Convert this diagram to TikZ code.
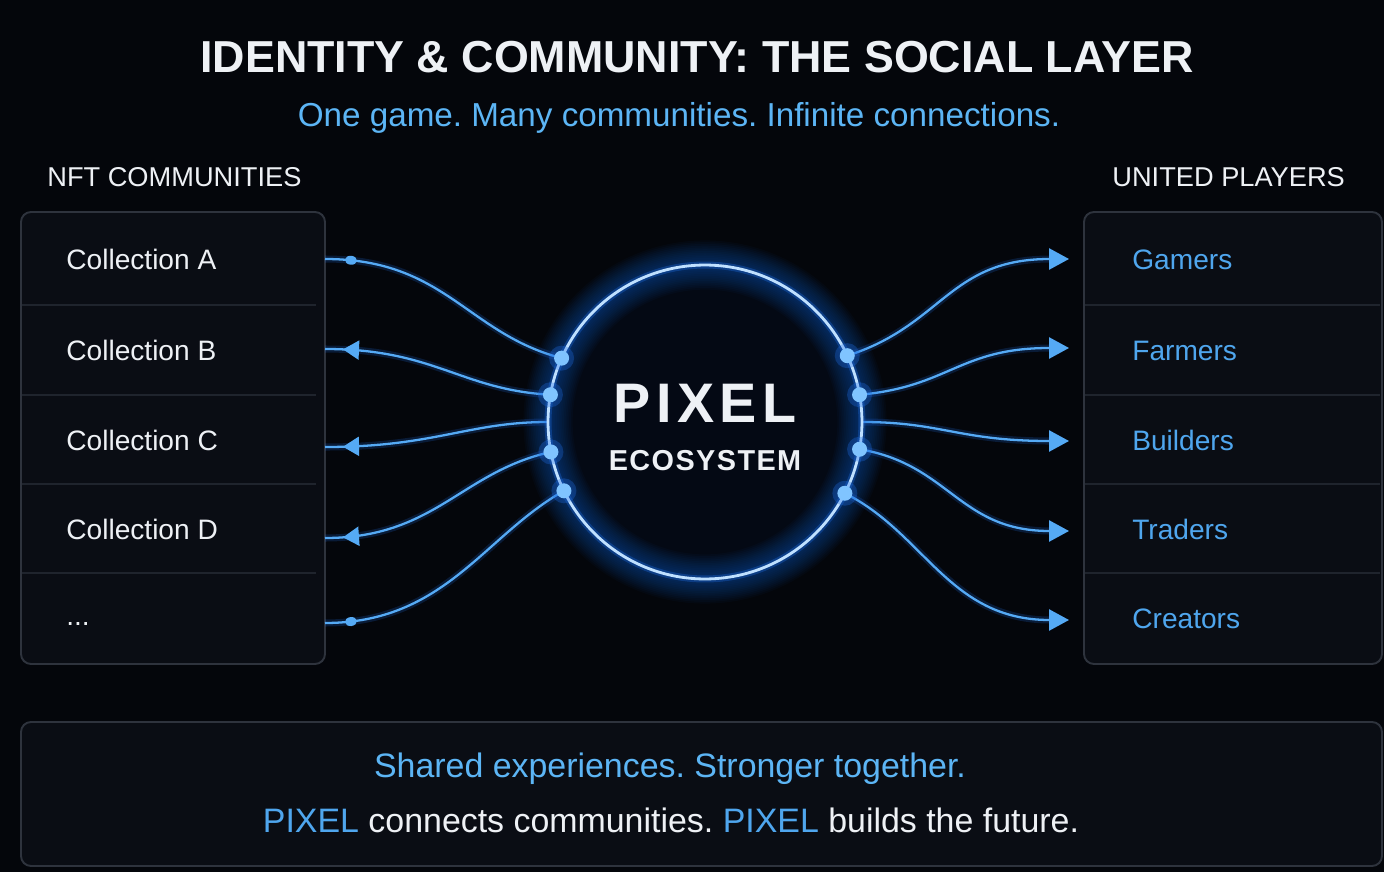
\documentclass[tikz,border=0pt]{standalone}
\usepackage{fontspec}
\setmainfont{Liberation Sans}
\newfontfamily\spacedfont[LetterSpace=10]{Liberation Sans}
\newfontfamily\spacedsub[LetterSpace=5]{Liberation Sans}
\usetikzlibrary{arrows.meta, decorations.markings}
\frenchspacing
\definecolor{bgdark}{HTML}{04060B}
\definecolor{panelfill}{HTML}{0A0D14}
\definecolor{paneledge}{HTML}{2E333D}
\definecolor{rowline}{HTML}{1F242D}
\definecolor{cwhite}{HTML}{EEF1F5}
\definecolor{cblue}{HTML}{4FA6EE}
\definecolor{clight}{HTML}{5CB5F5}
\definecolor{cwire}{HTML}{55AAF5}
\definecolor{cring}{HTML}{BFE0FF}
\definecolor{cglow}{HTML}{1F6FE8}
\definecolor{cdot}{HTML}{80C4FF}
\definecolor{corefill}{HTML}{040914}

\tikzset{
  headline/.style={font=\bfseries\fontsize{25.5}{30}\selectfont, text=cwhite, inner sep=0pt, anchor=base},
  tagline/.style={font=\fontsize{18.9}{22}\selectfont, text=clight, inner sep=0pt, anchor=base},
  colhead/.style={font=\fontsize{15.5}{18}\selectfont, text=cwhite, inner sep=0pt, anchor=base west},
  rowtext/.style={font=\fontsize{16}{19}\selectfont, text=cwhite, inner sep=0pt, anchor=base west},
  banner/.style={font=\fontsize{19.3}{23}\selectfont, inner sep=0pt, anchor=base},
  panel/.style={draw=paneledge, fill=panelfill, line width=1.1pt, rounded corners=0.2cm},
  rowsep/.style={draw=rowline, line width=0.9pt},
  wire/.style={draw=cwire, line width=1.3pt, preaction={draw=cglow, line width=4pt, opacity=0.2}},
  tipmark/.style={postaction={decorate, decoration={markings,
      mark=at position -0.36cm with {\arrow{Triangle[length=0.32cm, width=0.38cm]}}}}},
  dotmark/.style={postaction={decorate, decoration={markings,
      mark=at position -0.52cm with {\fill[cwire] (0,0) ellipse (0.12cm and 0.09cm);}}}},
  outarrow/.style={-{Triangle[length=0.4cm, width=0.42cm]}},
  hub/.style={circle, fill=corefill, minimum size=6.28cm, inner sep=0pt, outer sep=0pt},
  hubdot/.style={circle, fill=cdot, minimum size=0.3cm, inner sep=0pt},
  hubtitle/.style={font=\spacedfont\bfseries\fontsize{31.7}{36}\selectfont, text=cwhite, inner sep=0pt, anchor=base},
  hubsub/.style={font=\spacedsub\bfseries\fontsize{16.4}{20}\selectfont, text=cwhite, inner sep=0pt, anchor=base}
}

\begin{document}
\begin{tikzpicture}[x=0.02cm, y=-0.02cm]
  % background
  \fill[bgdark] (0,0) rectangle (1384,872);
  \useasboundingbox (0,0) rectangle (1384,872);

  % Headings
  \node[headline] (title) at (697,72) {IDENTITY \& COMMUNITY: THE SOCIAL LAYER};
  \node[tagline] (tagline) at (679,126) {One game. Many communities. Infinite connections.};
  \node[colhead] (nfthead) at (47,186) {NFT COMMUNITIES};
  \node[colhead] (playhead) at (1112,186) {UNITED PLAYERS};

  % Side panels with row rules
  \draw[panel] (21,212) rectangle (325,664);
  \draw[panel] (1084,212) rectangle (1382,664);
  \foreach \y in {305,395,484,573}{
    \draw[rowsep] (22,\y) -- (316,\y);
    \draw[rowsep] (1085,\y) -- (1380,\y);
  }

  % Left rows: collections
  \foreach \n/\t/\y in {A/Collection A/269, B/Collection B/360, C/Collection C/450, D/Collection D/539}
    \node[rowtext] (col\n) at (66,\y) {\t};
  \node[rowtext] (colE) at (66,625) {...};
  % Right rows: players
  \foreach \n/\t/\y in {A/Gamers/269, B/Farmers/360, C/Builders/450, D/Traders/539, E/Creators/628}
    \node[rowtext, text=cblue] (pl\n) at (1132,\y) {\t};

  % wire ends
  \foreach \n/\y in {A/259, B/349, C/447, D/538, E/623}
    \coordinate (l\n) at (325,\y);
  \foreach \n/\y in {A/259, B/348, C/441, D/531, E/620}
    \coordinate (r\n) at (1069,\y);

  % Hub
  \node[hub] (pix) at (705,422) {};

  % Left wires
  \draw[wire, dotmark] (pix.156) .. controls +(-95,-25) and +(120,0) .. (lA);
  \draw[wire, tipmark] (pix.170) .. controls +(-90,-5) and +(110,0) .. (lB);
  \draw[wire, tipmark] (pix.180) .. controls +(-80,0) and +(110,0) .. (lC);
  \draw[wire, tipmark] (pix.191) .. controls +(-90,20) and +(110,0) .. (lD);
  \draw[wire, dotmark] (pix.206) .. controls +(-80,45) and +(120,0) .. (lE);
  % Right wires
  \draw[wire, outarrow] (pix.25) .. controls +(95,-30) and +(-120,0) .. (rA);
  \draw[wire, outarrow] (pix.10) .. controls +(90,-8) and +(-110,0) .. (rB);
  \draw[wire, outarrow] (pix.0) .. controls +(80,0) and +(-110,0) .. (rC);
  \draw[wire, outarrow] (pix.-10) .. controls +(90,15) and +(-110,0) .. (rD);
  \draw[wire, outarrow] (pix.-27) .. controls +(80,40) and +(-120,0) .. (rE);

  % glow round the hub
  \foreach \w in {2,4,...,28}
    \draw[cglow, line width=\w pt, opacity=0.035] (pix.center) circle (3.14cm);
  \draw[cglow, line width=4pt, opacity=0.3] (pix.center) circle (3.14cm);
  \draw[cring, line width=1.6pt] (pix.center) circle (3.14cm);

  % Dots on the ring
  \foreach \a in {156,170,191,206,25,10,-10,-27}{
    \fill[cglow, opacity=0.3] (pix.\a) circle (0.25cm);
    \node[hubdot] (dot\a) at (pix.\a) {};
  }
  \node[hubtitle] (pixtxt) at (705,422) {PIXEL};
  \node[hubsub] (ecotxt) at (705,470) {ECOSYSTEM};

  % Bottom banner
  \draw[panel] (21,722) rectangle (1382,866);
  \node[banner, text=clight] (motto) at (670,777) {Shared experiences. Stronger together.};
  \node[banner, text=cwhite] (claim) at (671,832) {\textcolor{cblue}{PIXEL} connects communities. \textcolor{cblue}{PIXEL} builds the future.};
\end{tikzpicture}
\end{document}
